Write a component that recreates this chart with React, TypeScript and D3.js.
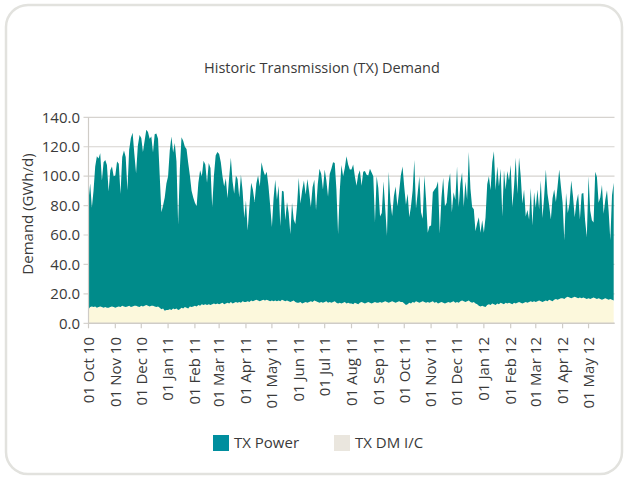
import React from "react";
import * as d3 from "d3";

// Month starts (UTC) covered by the chart
const monthKeys = [
  "2010-10", "2010-11", "2010-12", "2011-01", "2011-02", "2011-03", "2011-04",
  "2011-05", "2011-06", "2011-07", "2011-08", "2011-09", "2011-10", "2011-11",
  "2011-12", "2012-01", "2012-02", "2012-03", "2012-04", "2012-05",
];

// TX Power (GWh/d), samples spread evenly through each month
const txPower: number[][] = [
  [74, 84, 67, 79, 95, 103, 101, 104, 86, 99, 100, 97, 79, 93, 95, 89],
  [90, 99, 97, 77, 101, 106, 102, 79, 106, 115, 118, 103, 90, 109, 117],
  [114, 105, 112, 119, 118, 114, 115, 104, 117, 118, 114, 90, 66, 70, 77, 86],
  [91, 108, 118, 106, 113, 100, 58, 95, 116, 114, 109, 108, 99, 89, 79, 74],
  [70, 68, 83, 92, 87, 98, 95, 83, 96, 93, 66, 87, 101, 103],
  [102, 96, 86, 80, 85, 71, 86, 98, 83, 74, 86, 84, 71, 87, 75, 57],
  [69, 48, 65, 80, 76, 67, 79, 85, 78, 94, 88, 85, 87, 78, 65],
  [50, 70, 82, 69, 78, 51, 74, 74, 55, 67, 60, 46, 67, 55, 53, 66],
  [85, 67, 77, 83, 73, 84, 75, 64, 78, 82, 62, 80, 91, 87, 77],
  [90, 82, 72, 87, 91, 95, 94, 77, 47, 76, 94, 86, 91, 100, 94, 91],
  [91, 95, 86, 80, 88, 90, 79, 89, 90, 87, 86, 91, 89, 86, 54, 86],
  [78, 58, 61, 82, 63, 45, 89, 68, 58, 72, 79, 65, 74, 86, 92],
  [79, 68, 75, 58, 66, 76, 97, 63, 74, 86, 61, 56, 86, 70, 47, 52],
  [52, 74, 77, 78, 83, 47, 71, 85, 66, 68, 81, 88, 61, 74, 70],
  [92, 65, 80, 87, 64, 82, 69, 101, 77, 65, 63, 49, 55, 60, 50, 58],
  [50, 61, 82, 87, 78, 96, 104, 78, 93, 80, 91, 59, 91, 77, 90, 83],
  [94, 66, 79, 99, 74, 98, 86, 68, 77, 58, 63, 56, 77, 52, 74],
  [64, 76, 62, 82, 57, 71, 89, 73, 64, 55, 70, 75, 66, 77, 88, 76],
  [65, 40, 71, 57, 64, 80, 69, 54, 65, 71, 53, 71, 71, 53, 42],
  [83, 60, 53, 51, 86, 83, 65, 69, 78, 58, 67, 74, 60, 40, 71, 80],
];

// TX DM I/C (GWh/d), same sampling
const txDmIc: number[][] = [
  [9.5, 11, 11.5, 11, 11.5, 10.5, 11, 11.5, 11, 10.5, 11, 10.5, 10.5, 11, 11.5, 11],
  [10.5, 11, 11.5, 11, 12, 11.5, 11, 11.5, 12, 11, 11.5, 12, 12, 11.5, 11],
  [12, 11.5, 12, 12.5, 12, 11.5, 12, 12, 11.5, 11, 11.5, 10.5, 9.5, 10, 8.5, 9],
  [9, 9.5, 9, 10, 9.5, 10, 9, 9.5, 10.5, 10, 11, 10.5, 10, 11.5, 11, 11.5],
  [12, 11.5, 12.5, 12, 13, 12.5, 13, 12.5, 13, 12.5, 13, 13.5, 13, 13.5],
  [13, 13.5, 14, 13, 13.5, 14, 13.5, 14.5, 13.5, 14, 14.5, 14, 14.5, 14, 15, 14.5],
  [14.5, 15, 14.5, 15.5, 15, 15.5, 16, 15.5, 15, 15.5, 16, 15.5, 16, 15.5, 15],
  [15.5, 15, 15.5, 15, 15.5, 15, 16, 15.5, 15, 15.5, 15, 14.5, 15, 15.5, 14.5, 14],
  [14, 14.5, 13.5, 14, 14.5, 14, 14.5, 15, 14.5, 15.5, 15, 14.5, 14, 14.5, 14],
  [14.5, 15, 14, 14.5, 14, 14.5, 15, 14, 13.5, 14, 13.5, 14, 14.5, 13.5, 14, 13.5],
  [13.5, 13, 14, 13.5, 13, 14, 14.5, 14, 13.5, 14, 14.5, 14, 13.5, 14, 14.5, 14],
  [14, 14.5, 14, 14.5, 15, 14.5, 14, 14.5, 15, 14.5, 14, 14.5, 15, 14.5, 14.5],
  [13.5, 12.5, 13, 14, 13.5, 14.5, 14, 15, 14.5, 14, 14.5, 15, 14.5, 14, 14.5, 14],
  [14.5, 15, 14, 14.5, 13.5, 14, 14.5, 14, 13.5, 14, 14.5, 14, 14.5, 15, 14],
  [14.5, 14, 15, 15.5, 15, 14.5, 15, 15.5, 14.5, 14, 14.5, 13.5, 13, 12, 11.5, 12],
  [11.5, 11, 12.5, 13, 12.5, 13.5, 13, 12.5, 13.5, 13, 14, 13.5, 13, 14, 13.5, 14],
  [13.5, 13, 14, 13.5, 14, 14.5, 14, 13.5, 14, 14.5, 14, 14.5, 15, 14.5, 15],
  [14.5, 15, 15.5, 15, 14.5, 15, 15.5, 15, 16, 15.5, 15, 16, 16.5, 16, 16.5, 17],
  [17, 16.5, 17.5, 18, 17.5, 17, 17.5, 18, 17.5, 17, 17.5, 17, 17.5, 17, 16.5],
  [17, 16.5, 17, 17.5, 17, 16.5, 17, 16.5, 16, 16.5, 17, 16.5, 16, 16.5, 16, 15.5],
];

const yTicks = [0, 20, 40, 60, 80, 100, 120, 140];
const seriesNames = ["TX Power", "TX DM I/C"];

const FONT = "'Open Sans', 'Noto Sans', sans-serif";
const TEXT = "#3a3a3a";

type Row = { date: Date; dm: number; power: number };

function buildRows(): Row[] {
  const rows: Row[] = [];
  monthKeys.forEach((k, m) => {
    const [yy, mm] = k.split("-").map(Number);
    const start = Date.UTC(yy, mm - 1, 1);
    const end = Date.UTC(yy, mm, 1);
    const n = txPower[m].length;
    for (let j = 0; j < n; j++) {
      rows.push({
        date: new Date(start + ((end - start) * j) / n),
        dm: txDmIc[m][j],
        power: txPower[m][j],
      });
    }
  });
  return rows;
}

export default function App() {
  const W = 625;
  const H = 477;
  const left = 88.5;
  const right = 614.5;
  const top = 117.3;
  const bottom = 323.3;

  const rows = buildRows();
  const x = d3
    .scaleUtc()
    .domain([new Date(Date.UTC(2010, 9, 1)), new Date(Date.UTC(2012, 4, 31))])
    .range([left, right]);
  const y = d3.scaleLinear().domain([0, 140]).range([bottom, top]);

  const stack = d3.stack<Row>().keys(["dm", "power"]);
  const layers = stack(rows);
  const area = d3
    .area<d3.SeriesPoint<Row>>()
    .x((d) => x(d.data.date))
    .y0((d) => y(d[0]))
    .y1((d) => y(d[1]))
    .curve(d3.curveLinear);

  const monthTicks = monthKeys.map((k) => {
    const [yy, mm] = k.split("-").map(Number);
    return new Date(Date.UTC(yy, mm - 1, 1));
  });
  const fmt = d3.utcFormat("%d %b %y");
  const fills = ["#FCF8DC", "#008B8A"];

  return (
    <svg
      width={W}
      height={H}
      style={{ position: "absolute", left: 0, top: 0, background: "#fff" }}
      fontFamily={FONT}
    >
      <rect x={6} y={5} width={616} height={469} rx={22} fill="#fff" stroke="#e2e2de" strokeWidth={2.5} />
      <text x={322} y={73} textAnchor="middle" fontSize={14.5} fill={TEXT}>
        Historic Transmission (TX) Demand
      </text>

      {/* gridlines */}
      {yTicks.map((t) => (
        <line key={"g" + t} x1={left - 5} x2={right} y1={y(t)} y2={y(t)} stroke="#d6d3cf" strokeWidth={1.2} />
      ))}

      {/* areas */}
      {layers.map((layer, i) => (
        <path key={layer.key} d={area(layer) || ""} fill={fills[i]} />
      ))}

      {/* axes */}
      <line x1={left} x2={left} y1={top} y2={bottom} stroke="#cfccc7" strokeWidth={1.2} />
      <line x1={left} x2={right} y1={bottom} y2={bottom} stroke="#cfccc7" strokeWidth={1.5} />
      {monthTicks.map((d) => (
        <line key={"t" + +d} x1={x(d)} x2={x(d)} y1={bottom} y2={bottom + 5} stroke="#cfccc7" strokeWidth={1.2} />
      ))}

      {yTicks.map((t) => (
        <text key={"yl" + t} x={80} y={y(t)} dy="0.35em" textAnchor="end" fontSize={15} fill={TEXT}>
          {t.toFixed(1)}
        </text>
      ))}

      {monthTicks.map((d) => (
        <text
          key={"xl" + +d}
          transform={`translate(${x(d)},${337}) rotate(-90)`}
          dy="0.35em"
          textAnchor="end"
          fontSize={15}
          fill={TEXT}
        >
          {fmt(d)}
        </text>
      ))}

      <text transform="translate(28,214) rotate(-90)" dy="0.35em" textAnchor="middle" fontSize={15} fill={TEXT}>
        Demand (GWh/d)
      </text>

      {/* legend */}
      <rect x={213} y={435} width={16} height={16} fill="#008E9E" />
      <text x={234} y={443} dy="0.35em" fontSize={15} fill={TEXT}>
        {seriesNames[0]}
      </text>
      <rect x={334} y={435} width={16} height={16} fill="#EAE6DE" />
      <text x={355} y={443} dy="0.35em" fontSize={15} fill={TEXT}>
        {seriesNames[1]}
      </text>
    </svg>
  );
}
